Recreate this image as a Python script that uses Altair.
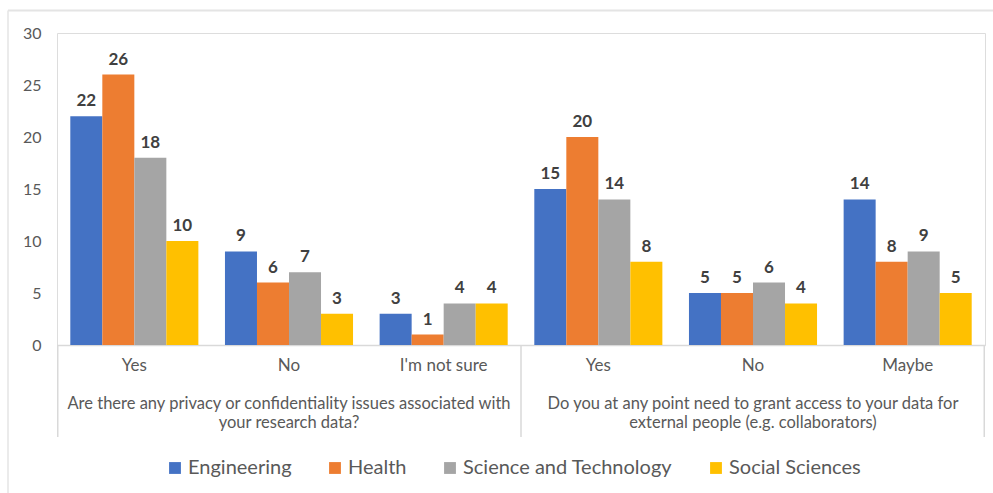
import altair as alt
import pandas as pd

# Survey answers, two questions with their answer options
questions = [
    "Are there any privacy or confidentiality issues associated with\nyour research data?",
    "Do you at any point need to grant access to your data for\nexternal people (e.g. collaborators)",
]
answers_q1 = ["Yes", "No", "I'm not sure"]
answers_q2 = ["Yes", "No", "Maybe"]

series = ["Engineering", "Health", "Science and Technology", "Social Sciences"]
colors = ["#4472C4", "#ED7D31", "#A5A5A5", "#FFC000"]

engineering = [22, 9, 3, 15, 5, 14]
health = [26, 6, 1, 20, 5, 8]
science_tech = [18, 7, 4, 14, 6, 9]
social = [10, 3, 4, 8, 4, 5]

y_ticks = [0, 5, 10, 15, 20, 25, 30]

# category keys keep the two "Yes"/"No" answers apart
cat_keys = [f"Q1|{a}" for a in answers_q1] + [f"Q2|{a}" for a in answers_q2]

rows = []
for name, vals in zip(series, [engineering, health, science_tech, social]):
    for k, v in zip(cat_keys, vals):
        rows.append({"cat": k, "series": name, "value": v})
df = pd.DataFrame(rows)

groups = pd.DataFrame({"cat": ["Q1|No", "Q2|No"], "label": questions})

W, H = 928, 312
FONT = "Lato"
TEXT = "#595959"

x = alt.X(
    "cat:N",
    sort=cat_keys,
    scale=alt.Scale(paddingInner=0.172, paddingOuter=0.086),
    axis=alt.Axis(
        title=None,
        ticks=False,
        tickSize=0,
        domainColor="#d9d9d9",
        domainWidth=1.5,
        labelAngle=0,
        labelFont=FONT,
        labelFontSize=17,
        labelColor=TEXT,
        labelPadding=12.5,
        labelExpr="split(datum.label, '|')[1]",
    ),
)
y = alt.Y(
    "value:Q",
    scale=alt.Scale(domain=[0, 30]),
    axis=alt.Axis(
        title=None,
        values=y_ticks,
        domain=False,
        ticks=False,
        grid=False,
        labelFont=FONT,
        labelFontSize=16,
        labelColor=TEXT,
        labelPadding=16,
    ),
)
x_off = alt.XOffset("series:N", sort=series, scale=alt.Scale(paddingInner=0, paddingOuter=0))

base = alt.Chart(df)

bars = base.mark_bar().encode(
    x=x,
    y=y,
    xOffset=x_off,
    color=alt.Color(
        "series:N",
        sort=series,
        scale=alt.Scale(domain=series, range=colors),
        legend=alt.Legend(
            title=None,
            orient="none",
            direction="horizontal",
            legendX=108,
            legendY=425,
            symbolType="square",
            symbolSize=140,
            symbolStrokeWidth=0,
            labelFont=FONT,
            labelFontSize=20,
            labelColor=TEXT,
            labelLimit=400,
            labelOffset=3,
            columnPadding=33,
            padding=0,
        ),
    ),
)

labels = base.mark_text(
    font=FONT, fontSize=17, fontWeight="bold", color="#404040", baseline="alphabetic", dy=-10
).encode(
    x=x,
    y=y,
    xOffset=x_off,
    text="value:Q",
)

group_text = alt.Chart(groups).mark_text(
    font=FONT, fontSize=16.5, color=TEXT, baseline="top", lineBreak="\n", lineHeight=19
).encode(
    x=x,
    y=alt.value(H + 50.5),
    text="label:N",
)

# vertical separators of the two-level category axis: left edge, middle, right edge
sep_df = pd.DataFrame({"k": [0]})
separators = [
    alt.Chart(sep_df).mark_rule(color="#d9d9d9", strokeWidth=1.5).encode(
        x=alt.value(px), y=alt.value(H), y2=alt.value(H + 92)
    )
    for px in (0.75, W / 2, W - 0.75)
]

# light frame around the chart
frame_top = alt.Chart(sep_df).mark_rule(color="#e4e4e4", strokeWidth=2).encode(
    x=alt.value(-49), x2=alt.value(W + 8), y=alt.value(-22.5)
)
frame_left = alt.Chart(sep_df).mark_rule(color="#e4e4e4", strokeWidth=1.5).encode(
    x=alt.value(-49), y=alt.value(-22.5), y2=alt.value(H + 148)
)

chart = (
    alt.layer(frame_top, frame_left, bars, labels, group_text, *separators)
    .properties(
        width=W,
        height=H,
        autosize=alt.AutoSizeParams(type="none"),
        padding={"left": 57, "top": 33, "right": 8, "bottom": 148},
    )
    .configure_view(stroke=None)
    .configure(background="white")
)

chart.save("out.html", embed_options={"renderer": "svg", "actions": False})
